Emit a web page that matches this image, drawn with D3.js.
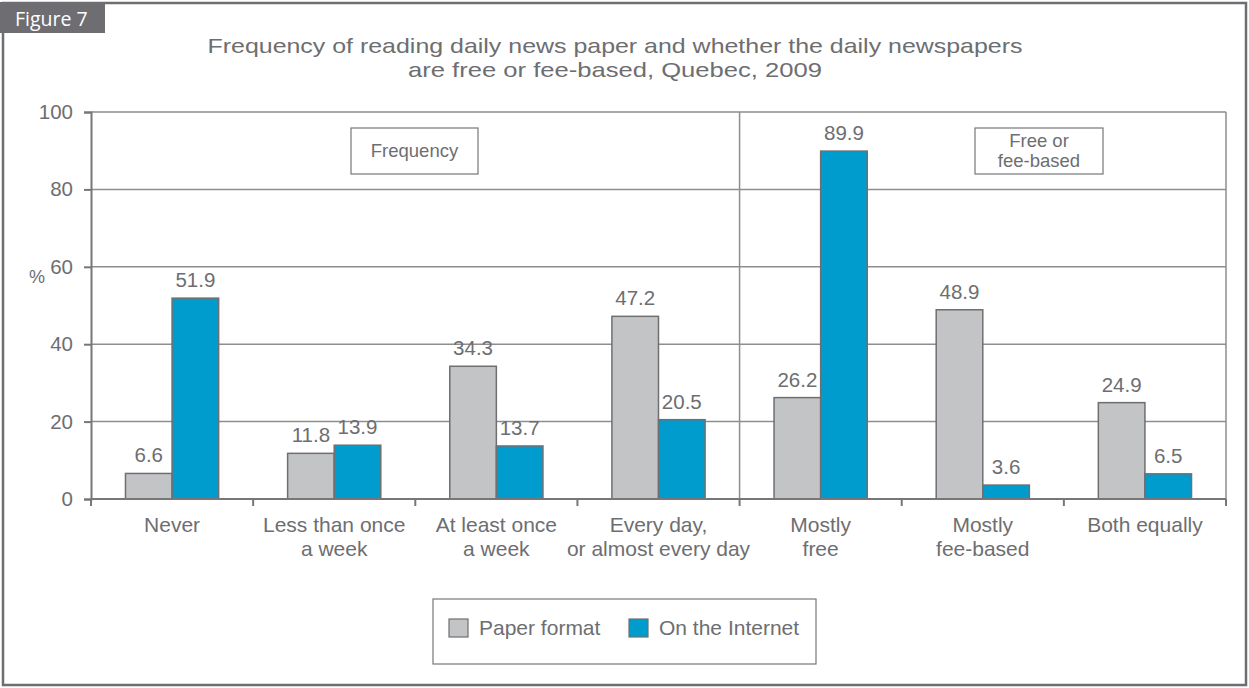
<!DOCTYPE html>
<html>
<head>
<meta charset="utf-8">
<script src="https://cdn.jsdelivr.net/npm/d3@7"></script>
<style>
  html, body { margin: 0; padding: 0; background: #ffffff; }
  svg { display: block; }
</style>
</head>
<body>
<svg id="chart" width="1249" height="688"></svg>
<script>
// Categories grouped into two panels: reading frequency, then free vs fee-based
const categories = [
  ["Never"],
  ["Less than once", "a week"],
  ["At least once", "a week"],
  ["Every day,", "or almost every day"],
  ["Mostly", "free"],
  ["Mostly", "fee-based"],
  ["Both equally"]
];
const seriesNames = ["Paper format", "On the Internet"];
const paperValues = [6.6, 11.8, 34.3, 47.2, 26.2, 48.9, 24.9];
const internetValues = [51.9, 13.9, 13.7, 20.5, 89.9, 3.6, 6.5];
const yTicks = [0, 20, 40, 60, 80, 100];
const titleLines = [
  "Frequency of reading daily news paper and whether the daily newspapers",
  "are free or fee-based, Quebec, 2009"
];
const titleWidths = [815, 414];
const panelLabels = [["Frequency"], ["Free or", "fee-based"]];

const textColor = "#6d6e71";
const frameColor = "#6d6d72";
const gridColor = "#8e8e90";
const axisColor = "#77777a";
const colors = ["#c3c4c6", "#009cce"];
const font = "'Liberation Sans', Arial, Helvetica, sans-serif";

const svg = d3.select("#chart");

// Outer frame and figure tab
svg.append("rect")
  .attr("x", 3).attr("y", 3).attr("width", 1243).attr("height", 682)
  .attr("fill", "none").attr("stroke", frameColor).attr("stroke-width", 2.5);
svg.append("rect")
  .attr("x", 0).attr("y", 2).attr("width", 105).attr("height", 31)
  .attr("fill", frameColor);
svg.append("text")
  .attr("x", 15).attr("y", 26)
  .attr("fill", "#ffffff")
  .attr("font-family", "'Open Sans', 'Noto Sans', sans-serif")
  .attr("font-size", 19.5)
  .text("Figure 7");

// Title (wide setting)
svg.append("g").selectAll("text")
  .data(titleLines)
  .join("text")
  .attr("x", 615)
  .attr("y", (d, i) => 53 + i * 24)
  .attr("text-anchor", "middle")
  .attr("fill", textColor)
  .attr("font-family", font)
  .attr("font-size", 21)
  .attr("textLength", (d, i) => titleWidths[i])
  .attr("lengthAdjust", "spacingAndGlyphs")
  .text(d => d);

// Plot area bounds
const plotLeft = 91, plotRight = 1226, plotTop = 112, plotBottom = 499;
const x = d3.scaleBand().domain(d3.range(categories.length)).range([plotLeft, plotRight]).paddingInner(0).paddingOuter(0);
const xInner = d3.scaleBand().domain(seriesNames).range([0, x.bandwidth()]).paddingInner(0).paddingOuter(0.74);
const y = d3.scaleLinear().domain([0, 100]).range([plotBottom, plotTop]);

// Horizontal grid lines
svg.append("g").selectAll("line")
  .data(yTicks.filter(t => t > 0))
  .join("line")
  .attr("x1", plotLeft).attr("x2", plotRight)
  .attr("y1", d => y(d)).attr("y2", d => y(d))
  .attr("stroke", gridColor).attr("stroke-width", 1.5);

// Right edge and the divider between the two panels
svg.append("line")
  .attr("x1", plotRight).attr("x2", plotRight).attr("y1", y(100)).attr("y2", y(0))
  .attr("stroke", gridColor).attr("stroke-width", 1.5);
svg.append("line")
  .attr("x1", x(4)).attr("x2", x(4)).attr("y1", y(100)).attr("y2", y(0))
  .attr("stroke", gridColor).attr("stroke-width", 1.5);

// Panel label boxes
const panelBoxes = [
  { cx: 414.5, w: 127 },
  { cx: 1039, w: 128 }
];
panelLabels.forEach((lines, i) => {
  const b = panelBoxes[i];
  const g = svg.append("g");
  g.append("rect")
    .attr("x", b.cx - b.w / 2).attr("y", 128).attr("width", b.w).attr("height", 46)
    .attr("fill", "#ffffff").attr("stroke", axisColor).attr("stroke-width", 1.2);
  const n = lines.length;
  g.selectAll("text")
    .data(lines)
    .join("text")
    .attr("x", b.cx)
    .attr("y", (d, j) => 151 + (j - (n - 1) / 2) * 20)
    .attr("dy", "0.35em")
    .attr("text-anchor", "middle")
    .attr("fill", textColor)
    .attr("font-family", font)
    .attr("font-size", 18.5)
    .text(d => d);
});

// Bars
const rows = categories.map((c, i) => [
  { i, s: seriesNames[0], v: paperValues[i], c: colors[0] },
  { i, s: seriesNames[1], v: internetValues[i], c: colors[1] }
]);
const groups = svg.append("g").selectAll("g")
  .data(rows)
  .join("g")
  .attr("transform", (d, i) => `translate(${x(i)},0)`);
groups.selectAll("rect")
  .data(d => d)
  .join("rect")
  .attr("x", d => xInner(d.s))
  .attr("y", d => y(d.v))
  .attr("width", xInner.bandwidth())
  .attr("height", d => y(0) - y(d.v))
  .attr("fill", d => d.c)
  .attr("stroke", "#6f6f72")
  .attr("stroke-width", 1.5);
groups.selectAll("text")
  .data(d => d)
  .join("text")
  .attr("x", d => xInner(d.s) + xInner.bandwidth() / 2)
  .attr("y", d => y(d.v) - 11)
  .attr("text-anchor", "middle")
  .attr("fill", textColor)
  .attr("font-family", font)
  .attr("font-size", 20.5)
  .text(d => d.v.toFixed(1));

// Y axis
const yAxis = svg.append("g")
  .attr("transform", `translate(${plotLeft},0)`)
  .call(d3.axisLeft(y).tickValues(yTicks).tickSize(7).tickPadding(11).tickFormat(d3.format("d")));
yAxis.select(".domain").attr("stroke", axisColor).attr("stroke-width", 2);
yAxis.selectAll(".tick line").attr("stroke", axisColor).attr("stroke-width", 2);
yAxis.selectAll(".tick text")
  .attr("fill", textColor).attr("font-family", font).attr("font-size", 20.5);

svg.append("text")
  .attr("x", 37).attr("y", 283)
  .attr("text-anchor", "middle")
  .attr("fill", textColor)
  .attr("font-family", font)
  .attr("font-size", 18)
  .text("%");

// X axis: baseline with tick marks at category boundaries
const xAxisG = svg.append("g");
xAxisG.append("line")
  .attr("x1", plotLeft).attr("x2", plotRight).attr("y1", y(0)).attr("y2", y(0))
  .attr("stroke", axisColor).attr("stroke-width", 2);
xAxisG.selectAll("line.tk")
  .data(d3.range(categories.length + 1))
  .join("line")
  .attr("class", "tk")
  .attr("x1", i => plotLeft + i * x.step()).attr("x2", i => plotLeft + i * x.step())
  .attr("y1", y(0)).attr("y2", y(0) + 7)
  .attr("stroke", axisColor).attr("stroke-width", 2);

// Category labels
const catG = svg.append("g").selectAll("text")
  .data(categories)
  .join("text")
  .attr("x", (d, i) => x(i) + x.bandwidth() / 2)
  .attr("y", 532)
  .attr("text-anchor", "middle")
  .attr("fill", textColor)
  .attr("font-family", font)
  .attr("font-size", 21);
catG.selectAll("tspan")
  .data(d => d)
  .join("tspan")
  .attr("x", function () { return d3.select(this.parentNode).attr("x"); })
  .attr("dy", (d, j) => j === 0 ? 0 : 24)
  .text(d => d);

// Legend
const legend = svg.append("g");
legend.append("rect")
  .attr("x", 433).attr("y", 599).attr("width", 383).attr("height", 65)
  .attr("fill", "#ffffff").attr("stroke", axisColor).attr("stroke-width", 1.2);
const legendItems = [
  { name: seriesNames[0], color: colors[0], x: 449 },
  { name: seriesNames[1], color: colors[1], x: 629 }
];
legendItems.forEach(it => {
  legend.append("rect")
    .attr("x", it.x).attr("y", 619).attr("width", 19).attr("height", 18)
    .attr("fill", it.color).attr("stroke", "#6f6f72").attr("stroke-width", 1.2);
  legend.append("text")
    .attr("x", it.x + 30).attr("y", 628)
    .attr("dy", "0.35em")
    .attr("fill", textColor)
    .attr("font-family", font)
    .attr("font-size", 21)
    .text(it.name);
});
</script>
</body>
</html>
